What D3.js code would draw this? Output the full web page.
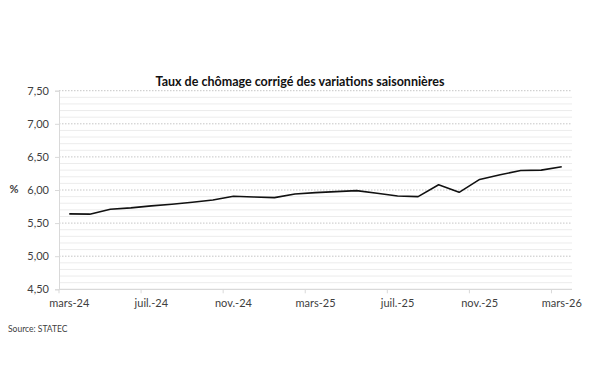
<!DOCTYPE html>
<html><head><meta charset="utf-8">
<script src="https://cdn.jsdelivr.net/npm/d3@7"></script>
<style>body{margin:0;background:#fff}svg{display:block}text{font-family:Lato,"Open Sans",sans-serif}</style>
</head><body><svg id="c" width="600" height="379"></svg>
<script>
const months = ["mars-24","avr.-24","mai-24","juin-24","juil.-24","août-24","sept.-24","oct.-24","nov.-24","déc.-24","janv.-25","févr.-25","mars-25","avr.-25","mai-25","juin-25","juil.-25","août-25","sept.-25","oct.-25","nov.-25","déc.-25","janv.-26","févr.-26","mars-26"];
const rates = [5.64,5.635,5.71,5.73,5.76,5.785,5.815,5.85,5.905,5.895,5.885,5.94,5.96,5.975,5.99,5.95,5.91,5.90,6.08,5.965,6.16,6.23,6.295,6.30,6.35];
const majorTicks = [4.5,5.0,5.5,6.0,6.5,7.0,7.5];
const minorTicks = d3.range(45,76).map(d=>d/10);
const labelMonths = ["mars-24","juil.-24","nov.-24","mars-25","juil.-25","nov.-25","mars-26"];
const title = "Taux de chômage corrigé des variations saisonnières";
const source = "Source: STATEC";

const svg = d3.select("#c");
const L=59, R=572, T=90.7, B=289.3;
const x = d3.scaleBand().domain(months).range([L,R]);
const y = d3.scaleLinear().domain([4.5,7.5]).range([B,T]);
const fmt = d => d3.format(".2f")(d).replace(".",",");

// minor grid
svg.append("g").selectAll("line").data(minorTicks.filter(v=>Math.round(v*10)%5!==0)).join("line")
  .attr("x1",L).attr("x2",R).attr("y1",d=>y(d)).attr("y2",d=>y(d))
  .attr("stroke","#ececec").attr("stroke-width",1);
// major grid
svg.append("g").selectAll("line").data(majorTicks.slice(1)).join("line")
  .attr("x1",L).attr("x2",R).attr("y1",d=>y(d)).attr("y2",d=>y(d))
  .attr("stroke","#c6c6c6").attr("stroke-width",1).attr("stroke-dasharray","1.5,1.5");

// y axis
const ya = svg.append("g").attr("transform",`translate(${L},0)`)
  .call(d3.axisLeft(y).tickValues(majorTicks).tickFormat(fmt).tickSize(4).tickPadding(6));
ya.select(".domain").attr("stroke","#d9d9d9");
ya.selectAll(".tick line").attr("stroke","#d9d9d9");
ya.selectAll("text").attr("fill","#404040").attr("font-size",11).style("font-family","Lato,'Open Sans',sans-serif");

// x axis
const boundaries = d3.range(0,months.length+1,4).map(i=>L+i*x.step()).filter(v=>v<R-1);
const xa = svg.append("g").attr("transform",`translate(0,${B})`);
xa.append("line").attr("x1",L).attr("x2",R).attr("y1",0).attr("y2",0).attr("stroke","#d9d9d9").attr("stroke-width",1.2);
xa.selectAll(".tk").data(boundaries).join("line").attr("class","tk")
  .attr("x1",d=>d).attr("x2",d=>d).attr("y1",0).attr("y2",4).attr("stroke","#d9d9d9");
xa.selectAll("text").data(labelMonths).join("text")
  .attr("x",d=>x(d)+x.bandwidth()/2).attr("y",18).attr("text-anchor","middle")
  .attr("fill","#404040").attr("font-size",11).text(d=>d);

// line
svg.append("path").datum(rates)
  .attr("d",d3.line().x((d,i)=>x(months[i])+x.bandwidth()/2).y(d=>y(d)))
  .attr("fill","none").attr("stroke","#111").attr("stroke-width",1.6).attr("stroke-linejoin","round");

// texts
svg.append("text").attr("x",300).attr("y",86).attr("text-anchor","middle")
  .attr("font-size",12.5).attr("font-weight","bold").attr("fill","#111").text(title);
svg.append("text").attr("x",14).attr("y",193).attr("text-anchor","middle")
  .attr("font-size",11).attr("font-weight","bold").attr("fill","#404040").text("%");
svg.append("text").attr("x",8).attr("y",332).attr("font-size",8.5).attr("fill","#404040").text(source);
</script></body></html>
